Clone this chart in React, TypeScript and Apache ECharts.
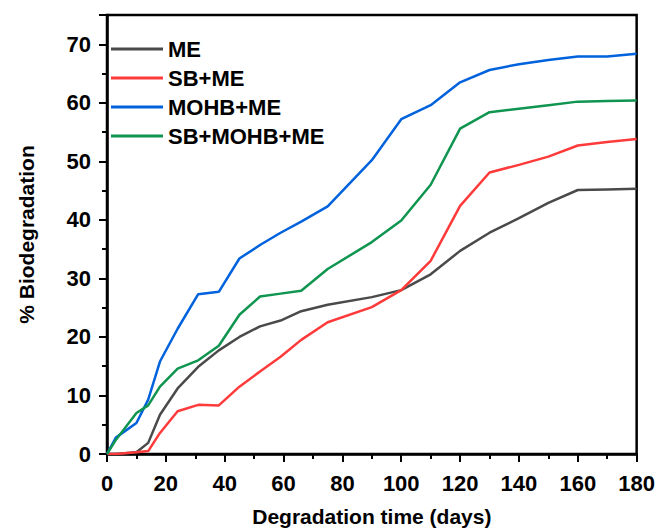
import React, { useEffect, useRef } from "react";
import * as echarts from "echarts";

const days = [0, 3, 10, 14, 18, 24, 31, 38, 45, 52, 59, 66, 75, 90, 100, 110, 120, 130, 140, 150, 160, 170, 180];
const me = [0, 0, 0.3, 1.9, 6.7, 11.2, 14.9, 17.7, 20.0, 21.8, 22.8, 24.4, 25.5, 26.8, 28.0, 30.7, 34.7, 37.8, 40.3, 42.9, 45.1, 45.2, 45.3];
const sbMe = [0, 0, 0.3, 0.5, 3.6, 7.3, 8.4, 8.3, 11.5, 14.1, 16.6, 19.5, 22.5, 25.1, 28.0, 33.0, 42.4, 48.1, 49.4, 50.8, 52.7, 53.3, 53.8];
const mohbMe = [0, 2.8, 5.3, 9.3, 15.8, 21.4, 27.3, 27.7, 33.4, 35.7, 37.8, 39.7, 42.3, 50.2, 57.2, 59.6, 63.5, 65.6, 66.6, 67.3, 67.9, 67.9, 68.4];
const sbMohbMe = [0, 2.4, 7.0, 8.3, 11.5, 14.6, 16.0, 18.5, 23.8, 26.9, 27.4, 27.9, 31.6, 36.2, 39.9, 46.0, 55.6, 58.4, 59.0, 59.6, 60.2, 60.3, 60.4];

const seriesNames = ["ME", "SB+ME", "MOHB+ME", "SB+MOHB+ME"];
const seriesValues = [me, sbMe, mohbMe, sbMohbMe];
const colors = ["#4a4a4a", "#ff3a3a", "#0062dc", "#0f9550"];

const FONT = "Liberation Sans, Arial, sans-serif";

export default function App() {
  const ref = useRef<HTMLDivElement>(null);
  useEffect(() => {
    if (!ref.current) return;
    const chart = echarts.init(ref.current, null, { renderer: "svg" });
    const labelStyle = { color: "#000", fontWeight: "bold" as const, fontSize: 22, fontFamily: FONT };
    chart.setOption({
      animation: false,
      grid: {
        left: 88,
        right: 13,
        top: 7,
        bottom: 74,
        show: true,
        borderColor: "#000",
        borderWidth: 2.5,
      },
      legend: {
        orient: "vertical",
        left: 98,
        top: 25,
        icon: "rect",
        itemWidth: 52,
        itemHeight: 3,
        itemGap: 7,
        data: seriesNames,
        textStyle: { ...labelStyle, fontSize: 22 },
      },
      xAxis: {
        type: "value",
        min: 0,
        max: 180,
        interval: 20,
        name: "Degradation time (days)",
        nameLocation: "middle",
        nameGap: 52,
        nameTextStyle: { ...labelStyle, fontSize: 21 },
        axisLine: { show: true, lineStyle: { color: "#000", width: 2.5 } },
        axisTick: { show: true, inside: false, length: 8, lineStyle: { color: "#000", width: 2 } },
        minorTick: { show: true, splitNumber: 2, length: 5, lineStyle: { color: "#000", width: 2 } },
        axisLabel: { ...labelStyle, margin: 18 },
        splitLine: { show: false },
      },
      yAxis: {
        type: "value",
        min: 0,
        max: 75,
        interval: 10,
        name: "% Biodegradation",
        nameLocation: "middle",
        nameGap: 70,
        nameTextStyle: { ...labelStyle, fontSize: 21 },
        axisLine: { show: true, lineStyle: { color: "#000", width: 2.5 } },
        axisTick: { show: true, inside: false, length: 8, lineStyle: { color: "#000", width: 2 } },
        minorTick: { show: true, splitNumber: 2, length: 5, lineStyle: { color: "#000", width: 2 } },
        axisLabel: {
          ...labelStyle,
          margin: 16,
          formatter: (v: number) => (v % 10 === 0 ? String(v) : ""),
        },
        splitLine: { show: false },
      },
      series: seriesNames.map((name, i) => ({
        name,
        type: "line",
        data: days.map((d, j) => [d, seriesValues[i][j]]),
        symbol: "none",
        showSymbol: false,
        lineStyle: { color: colors[i], width: 2.5 },
        itemStyle: { color: colors[i] },
        z: 2 + i,
      })),
    });
    return () => chart.dispose();
  }, []);
  return <div ref={ref} style={{ width: 650, height: 524 }} />;
}
